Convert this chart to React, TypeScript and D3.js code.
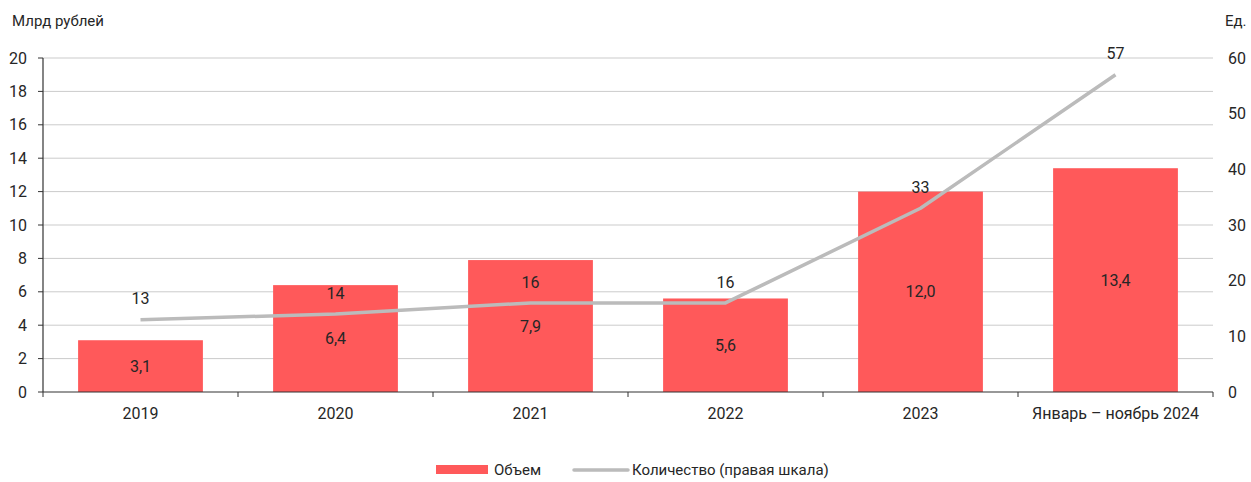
import { useEffect, useRef } from 'react';
import * as d3 from 'd3';

const categories = ['2019', '2020', '2021', '2022', '2023', 'Январь – ноябрь 2024'];
const volume = [3.1, 6.4, 7.9, 5.6, 12.0, 13.4];
const count = [13, 14, 16, 16, 33, 57];
const leftTicks = [0, 2, 4, 6, 8, 10, 12, 14, 16, 18, 20];
const rightTicks = [0, 10, 20, 30, 40, 50, 60];

const W = 1251;
const H = 482;
const FONT = 'Roboto, "Noto Sans", sans-serif';
const TEXT = '#262626';
const RED = '#FF595A';
const GREY = '#BBBBBB';

const fmt = (v: number) => v.toFixed(1).replace('.', ',');

const App = () => {
  const svgRef = useRef<SVGSVGElement | null>(null);

  useEffect(() => {
    const svg = d3.select(svgRef.current);
    svg.selectAll('*').remove();

    const left = 43;
    const right = 1213;
    const top = 58;
    const bottom = 392;

    const x = d3.scaleBand().domain(categories).range([left, right]).paddingInner(0.36).paddingOuter(0.18);
    const step = (right - left) / categories.length;
    const yL = d3.scaleLinear().domain([0, 20]).range([bottom, top]);
    const yR = d3.scaleLinear().domain([0, 60]).range([bottom, top]);

    // gridlines
    svg.append('g')
      .selectAll('line')
      .data(leftTicks.slice(1))
      .enter()
      .append('line')
      .attr('x1', left)
      .attr('x2', right)
      .attr('y1', d => yL(d))
      .attr('y2', d => yL(d))
      .attr('stroke', '#CBCBCB')
      .attr('stroke-width', 1);

    // bars
    svg.append('g')
      .selectAll('rect')
      .data(volume)
      .enter()
      .append('rect')
      .attr('x', (_, i) => x(categories[i])!)
      .attr('y', d => yL(d))
      .attr('width', x.bandwidth())
      .attr('height', d => bottom - yL(d))
      .attr('fill', RED);

    // bar labels
    svg.append('g')
      .selectAll('text')
      .data(volume)
      .enter()
      .append('text')
      .attr('x', (_, i) => x(categories[i])! + x.bandwidth() / 2)
      .attr('y', d => (yL(d) + bottom) / 2)
      .attr('dy', '0.35em')
      .attr('text-anchor', 'middle')
      .attr('font-family', FONT)
      .attr('font-size', 16)
      .attr('fill', TEXT)
      .text(d => fmt(d));

    // line (count, right scale)
    const cx = (i: number) => x(categories[i])! + x.bandwidth() / 2;
    const line = d3.line<number>()
      .x((_, i) => cx(i))
      .y(d => yR(d));

    svg.append('path')
      .datum(count)
      .attr('d', line)
      .attr('fill', 'none')
      .attr('stroke', GREY)
      .attr('stroke-width', 3.5)
      .attr('stroke-linejoin', 'round');

    svg.append('g')
      .selectAll('text')
      .data(count)
      .enter()
      .append('text')
      .attr('x', (_, i) => cx(i))
      .attr('y', d => yR(d) - 21)
      .attr('dy', '0.35em')
      .attr('text-anchor', 'middle')
      .attr('font-family', FONT)
      .attr('font-size', 16)
      .attr('fill', TEXT)
      .text(d => d);

    // left axis
    const axisG = svg.append('g');
    axisG.append('line')
      .attr('x1', left).attr('x2', left)
      .attr('y1', top).attr('y2', bottom)
      .attr('stroke', '#333').attr('stroke-width', 1.2);
    axisG.selectAll('.lt')
      .data(leftTicks)
      .enter()
      .append('line')
      .attr('x1', left - 5).attr('x2', left)
      .attr('y1', d => yL(d)).attr('y2', d => yL(d))
      .attr('stroke', '#333');
    axisG.selectAll('.ll')
      .data(leftTicks)
      .enter()
      .append('text')
      .attr('x', 27)
      .attr('y', d => yL(d))
      .attr('dy', '0.35em')
      .attr('text-anchor', 'end')
      .attr('font-family', FONT)
      .attr('font-size', 16)
      .attr('fill', TEXT)
      .text(d => d);

    // right labels
    axisG.selectAll('.rl')
      .data(rightTicks)
      .enter()
      .append('text')
      .attr('x', 1228)
      .attr('y', d => yR(d))
      .attr('dy', '0.35em')
      .attr('font-family', FONT)
      .attr('font-size', 16)
      .attr('fill', TEXT)
      .text(d => d);

    // x axis
    axisG.append('line')
      .attr('x1', left).attr('x2', right)
      .attr('y1', bottom).attr('y2', bottom)
      .attr('stroke', '#333').attr('stroke-width', 1.2);
    axisG.selectAll('.xt')
      .data(d3.range(categories.length + 1))
      .enter()
      .append('line')
      .attr('x1', d => left + d * step).attr('x2', d => left + d * step)
      .attr('y1', bottom).attr('y2', bottom + 5)
      .attr('stroke', '#333');
    axisG.selectAll('.xl')
      .data(categories)
      .enter()
      .append('text')
      .attr('x', d => x(d)! + x.bandwidth() / 2)
      .attr('y', 413)
      .attr('dy', '0.35em')
      .attr('text-anchor', 'middle')
      .attr('font-family', FONT)
      .attr('font-size', 16)
      .attr('fill', TEXT)
      .text(d => d);

    // axis titles
    svg.append('text')
      .attr('x', 12).attr('y', 26)
      .attr('font-family', FONT).attr('font-size', 15).attr('fill', TEXT)
      .text('Млрд рублей');
    svg.append('text')
      .attr('x', 1225).attr('y', 26)
      .attr('font-family', FONT).attr('font-size', 15).attr('fill', TEXT)
      .text('Ед.');

    // legend
    const lg = svg.append('g');
    lg.append('rect')
      .attr('x', 436).attr('y', 465).attr('width', 52).attr('height', 9)
      .attr('fill', RED);
    lg.append('text')
      .attr('x', 494).attr('y', 470).attr('dy', '0.35em')
      .attr('font-family', FONT).attr('font-size', 15).attr('fill', TEXT)
      .text('Объем');
    lg.append('line')
      .attr('x1', 574).attr('x2', 628).attr('y1', 470).attr('y2', 470)
      .attr('stroke', GREY).attr('stroke-width', 3.5).attr('stroke-linecap', 'round');
    lg.append('text')
      .attr('x', 632).attr('y', 470).attr('dy', '0.35em')
      .attr('font-family', FONT).attr('font-size', 15).attr('fill', TEXT)
      .text('Количество (правая шкала)');
  }, []);

  return (
    <svg
      ref={svgRef}
      width={W}
      height={H}
      style={{ position: 'absolute', left: 0, top: 0, background: '#fff' }}
    />
  );
};

export default App;
